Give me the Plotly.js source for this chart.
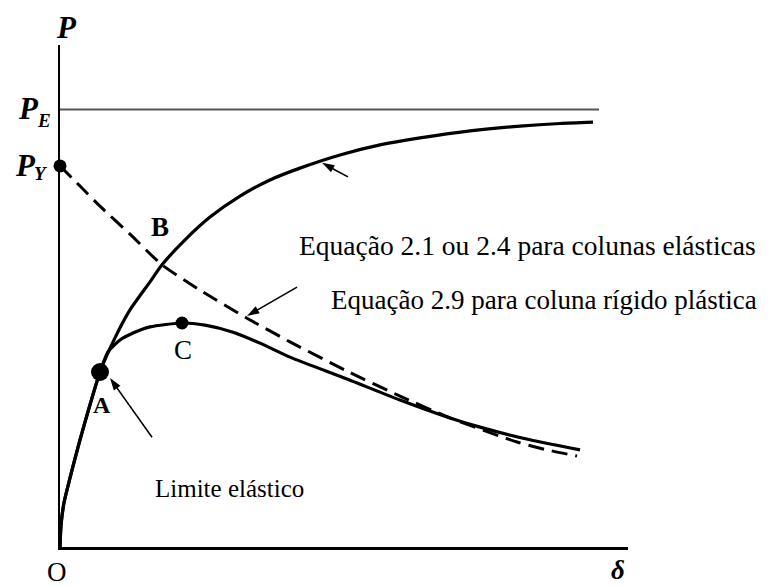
<!DOCTYPE html>
<html>
<head>
<meta charset="utf-8">
<script src="https://cdn.plot.ly/plotly-3.0.1.min.js"></script>
<style>
  html, body { margin: 0; padding: 0; background: #fff; }
  #chart { width: 768px; height: 586px; }
</style>
</head>
<body>
<div id="chart"></div>
<script>
// Load P against lateral deflection δ (P normalised so that P_E = 1)

// Elastic column curve (Eq. 2.1 / 2.4), approaching P_E asymptotically
const elasticDelta = [0, 0.018, 0.070, 0.176, 0.352, 0.528, 0.704, 0.968, 1.232, 1.585, 1.796,
                      2.201, 2.641, 3.169, 3.697, 4.225, 4.930, 5.634, 6.338, 7.218, 8.099, 8.803, 9.384];
const elasticP     = [0, 0.050, 0.101, 0.158, 0.245, 0.325, 0.400, 0.478, 0.542, 0.606, 0.645,
                      0.702, 0.754, 0.802, 0.839, 0.866, 0.896, 0.919, 0.935, 0.951, 0.962, 0.968, 0.971];

// Actual elastic-plastic response: follows the elastic curve to A, peaks at C
const realDelta = [0, 0.018, 0.070, 0.176, 0.352, 0.528, 0.704, 0.845, 1.056, 1.285, 1.585, 2.148,
                   2.553, 3.046, 3.521, 4.049, 5.053, 5.986, 6.866, 7.394, 8.275, 9.155];
const realP     = [0, 0.050, 0.101, 0.158, 0.245, 0.325, 0.400, 0.446, 0.473, 0.489, 0.503, 0.512,
                   0.507, 0.491, 0.466, 0.434, 0.384, 0.336, 0.295, 0.274, 0.245, 0.222];

// Rigid-plastic column (Eq. 2.9), falling from P_Y
const rigidDelta = [0, 0.352, 0.704, 1.232, 1.796, 2.465, 3.292, 4.049, 5.053, 5.986, 6.866, 8.046, 8.574, 9.102];
const rigidP     = [0.871, 0.825, 0.779, 0.715, 0.645, 0.587, 0.523, 0.469, 0.402, 0.345, 0.295, 0.240, 0.222, 0.208];

// Reference loads
const eulerLoad = 1.0;
const eulerLineDelta = [0, 9.49];
const yieldLoad = 0.871;

// Marked points: P_Y, A (elastic limit), C (peak load)
const pointDelta = [0, 0.704, 2.148];
const pointP     = [yieldLoad, 0.400, 0.512];
const pointSize  = [13, 18, 13];

// Leader arrows: [tail, tip] pairs for the elastic curve, the rigid-plastic curve and point A
const leaderDelta = [[5.070, 4.613], [4.173, 3.292], [1.620, 0.880]];
const leaderP     = [[0.846, 0.878], [0.594, 0.528], [0.251, 0.386]];

const serif = 'Liberation Serif';

const traces = [
  {
    x: eulerLineDelta, y: eulerLineDelta.map(() => eulerLoad),
    mode: 'lines', line: { color: '#555', width: 2 }, hoverinfo: 'skip'
  },
  {
    x: elasticDelta, y: elasticP, mode: 'lines',
    line: { color: '#000', width: 3.2, shape: 'spline', smoothing: 0.6 }, hoverinfo: 'skip'
  },
  {
    x: realDelta, y: realP, mode: 'lines',
    line: { color: '#000', width: 3.2, shape: 'spline', smoothing: 0.6 }, hoverinfo: 'skip'
  },
  {
    x: rigidDelta, y: rigidP, mode: 'lines',
    line: { color: '#000', width: 3, dash: '16px,8px', shape: 'spline', smoothing: 0.6 }, hoverinfo: 'skip'
  },
  {
    x: pointDelta, y: pointP, mode: 'markers', cliponaxis: false,
    marker: { color: '#000', size: pointSize, opacity: 1, line: { width: 0 } }, hoverinfo: 'skip'
  }
];

// Each leader is a thin segment ending in an arrowhead marker aligned with the segment
leaderDelta.forEach((xs, i) => {
  traces.push({
    x: xs, y: leaderP[i], mode: 'lines+markers',
    line: { color: '#000', width: 1.6 },
    marker: { symbol: 'arrow', angleref: 'previous', size: [0, 13], color: '#000', opacity: 1, line: { width: 0 } },
    hoverinfo: 'skip'
  });
});

function label(text, x, y, size, family, extra) {
  return Object.assign({
    x: x, y: y, text: text, showarrow: false,
    font: { family: family, size: size, color: '#000' },
    xanchor: 'center', yanchor: 'middle'
  }, extra || {});
}

// Axis symbols sit outside the data range, so they are placed in paper units
const paper = { xref: 'paper', yref: 'paper' };

const annotations = [
  label('<b><i>P</i></b>', 0.0123, 1.034, 31, serif, paper),
  // P_E and P_Y: main letter plus a smaller, lowered subscript letter
  label('<b><i>P</i></b>', -0.0563, 0.8745, 31, serif, paper),
  label('<b><i>E</i></b>', -0.0282, 0.850, 19, serif, paper),
  label('<b><i>P</i></b>', -0.0616, 0.759, 31, serif, paper),
  label('<b><i>Y</i></b>', -0.0335, 0.745, 19, serif, paper),
  label('O', -0.0053, -0.050, 27, serif, paper),
  label('<b><i>δ</i></b>', 0.982, -0.046, 27, serif, paper),
  label('<b>B</b>', 1.761, 0.731, 27, serif),
  label('<b>A</b>', 0.739, 0.325, 24, serif),
  label('C', 2.165, 0.450, 27, serif),
  label('Equação 2.1 ou 2.4 para colunas elásticas', 4.17, 0.688, 27.5, serif, { xanchor: 'left' }),
  label('Equação 2.9 para coluna rígido plástica', 4.74, 0.565, 27, serif, { xanchor: 'left' }),
  label('Limite elástico', 1.637, 0.133, 25, serif, { xanchor: 'left' })
];

const layout = {
  width: 768, height: 586,
  margin: { l: 60, r: 140, t: 45, b: 39 },
  paper_bgcolor: '#fff', plot_bgcolor: '#fff',
  showlegend: false,
  xaxis: {
    range: [0, 10], showline: true, linecolor: '#000', linewidth: 2.5,
    showgrid: false, zeroline: false, showticklabels: false, ticks: '', fixedrange: true
  },
  yaxis: {
    range: [0, 1.1474], showline: true, linecolor: '#000', linewidth: 2.5,
    showgrid: false, zeroline: false, showticklabels: false, ticks: '', fixedrange: true
  },
  annotations: annotations
};

Plotly.newPlot('chart', traces, layout, { displayModeBar: false, staticPlot: true });
</script>
</body>
</html>
